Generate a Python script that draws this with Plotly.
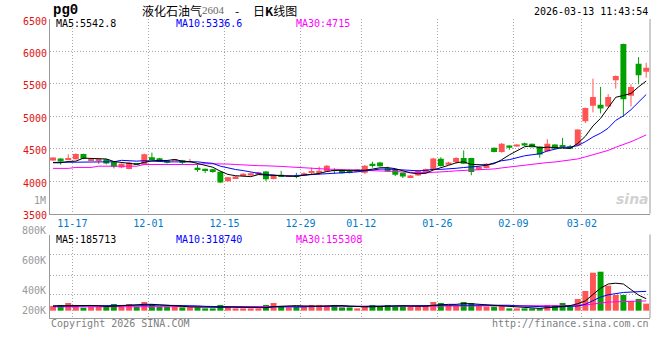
import plotly.graph_objects as go
import pandas as pd

# ---------------- data ----------------
dates = [
    "2025-11-13", "2025-11-14", "2025-11-17", "2025-11-18", "2025-11-19", "2025-11-20", "2025-11-21",
    "2025-11-24", "2025-11-25", "2025-11-26", "2025-11-27", "2025-11-28",
    "2025-12-01", "2025-12-02", "2025-12-03", "2025-12-04", "2025-12-05",
    "2025-12-08", "2025-12-09", "2025-12-10", "2025-12-11", "2025-12-12",
    "2025-12-15", "2025-12-16", "2025-12-17", "2025-12-18", "2025-12-19",
    "2025-12-22", "2025-12-23", "2025-12-24", "2025-12-25", "2025-12-26",
    "2025-12-29", "2025-12-30", "2025-12-31",
    "2026-01-05", "2026-01-06", "2026-01-07", "2026-01-08", "2026-01-09",
    "2026-01-12", "2026-01-13", "2026-01-14", "2026-01-15", "2026-01-16",
    "2026-01-19", "2026-01-20", "2026-01-21", "2026-01-22", "2026-01-23",
    "2026-01-26", "2026-01-27", "2026-01-28", "2026-01-29", "2026-01-30",
    "2026-02-02", "2026-02-03", "2026-02-04", "2026-02-05", "2026-02-06",
    "2026-02-09", "2026-02-10", "2026-02-11", "2026-02-12", "2026-02-13",
    "2026-02-24", "2026-02-25", "2026-02-26", "2026-02-27",
    "2026-03-02", "2026-03-03", "2026-03-04", "2026-03-05", "2026-03-06",
    "2026-03-09", "2026-03-10", "2026-03-11", "2026-03-12", "2026-03-13",
]

open_ = [4320, 4350, 4330, 4340, 4420, 4325, 4320, 4338, 4298, 4210,
         4190, 4270, 4255, 4370, 4355, 4320, 4318, 4325, 4300, 4207,
         4191, 4185, 4145, 4000, 4050, 4080, 4090, 4100, 4150, 4035,
         4100, 4070, 4080, 4090, 4140, 4140, 4150, 4170, 4180, 4150,
         4150, 4130, 4270, 4290, 4200, 4175, 4130, 4065, 4090, 4125,
         4175, 4345, 4255, 4296, 4357, 4357, 4178, 4204, 4515, 4449,
         4551, 4535, 4586, 4576, 4535, 4464, 4566, 4560, 4540, 4551,
         4923, 5163, 5178, 5153, 5556, 6116, 5316, 5810, 5688]
high = [4370, 4355, 4415, 4430, 4425, 4350, 4345, 4345, 4300, 4275,
        4300, 4275, 4425, 4440, 4360, 4325, 4335, 4330, 4345, 4255,
        4195, 4190, 4150, 4065, 4080, 4125, 4130, 4145, 4160, 4105,
        4160, 4095, 4130, 4140, 4210, 4225, 4250, 4200, 4185, 4180,
        4185, 4250, 4300, 4300, 4225, 4180, 4135, 4095, 4175, 4195,
        4360, 4370, 4300, 4372, 4475, 4360, 4225, 4275, 4520, 4590,
        4555, 4570, 4595, 4580, 4540, 4648, 4570, 4668, 4561, 4800,
        5135, 5581, 5454, 5341, 5632, 6120, 5494, 5913, 5826]
low = [4315, 4255, 4325, 4335, 4340, 4320, 4265, 4260, 4198, 4205,
       4185, 4250, 4250, 4330, 4300, 4275, 4315, 4255, 4290, 4145,
       4126, 4130, 3975, 3995, 4045, 4075, 4085, 4095, 4000, 4030,
       4070, 4065, 4045, 4085, 4100, 4100, 4145, 4120, 4120, 4120,
       4145, 4110, 4210, 4225, 4145, 4080, 4050, 4050, 4085, 4120,
       4170, 4225, 4250, 4270, 4265, 4092, 4170, 4200, 4445, 4440,
       4485, 4530, 4545, 4520, 4362, 4455, 4495, 4525, 4495, 4540,
       4898, 5061, 5045, 5145, 5428, 4994, 5153, 5494, 5596]
close = [4365, 4305, 4345, 4420, 4345, 4345, 4335, 4272, 4222, 4270,
         4290, 4255, 4415, 4340, 4305, 4285, 4330, 4285, 4310, 4175,
         4157, 4155, 3980, 4060, 4075, 4115, 4125, 4140, 4030, 4100,
         4075, 4090, 4075, 4125, 4150, 4160, 4240, 4160, 4125, 4140,
         4180, 4240, 4250, 4230, 4150, 4100, 4075, 4090, 4160, 4190,
         4350, 4235, 4290, 4357, 4270, 4143, 4220, 4270, 4450, 4576,
         4515, 4566, 4551, 4525, 4413, 4576, 4500, 4540, 4500, 4796,
         5127, 5300, 5122, 5300, 5622, 5265, 5454, 5632, 5749]
volume = [76000, 92000, 124000, 92000, 48000, 64000, 64000, 76000, 108000, 92000,
          108000, 64000, 140000, 108000, 64000, 64000, 64000, 53000, 53000, 53000,
          37000, 37000, 92000, 64000, 37000, 37000, 37000, 37000, 92000, 124000,
          76000, 53000, 64000, 64000, 92000, 92000, 76000, 92000, 53000, 53000,
          37000, 76000, 92000, 76000, 92000, 64000, 76000, 64000, 76000, 76000,
          140000, 124000, 92000, 76000, 140000, 124000, 76000, 64000, 64000, 76000,
          37000, 37000, 37000, 37000, 37000, 92000, 92000, 124000, 64000, 188000,
          317000, 612000, 628000, 403000, 253000, 253000, 157000, 188000, 113000]

# moving-average values before each window is full
ma5_head = [4285, 4285, 4305, 4310]
ma10_head = [4290, 4292, 4295, 4300, 4302, 4305, 4305, 4302, 4300]
ma30_head = [4198, 4198, 4198, 4213, 4213, 4213, 4232, 4232, 4232, 4232,
             4232, 4232, 4258, 4258, 4258, 4258, 4258, 4258, 4258, 4258,
             4270, 4270, 4268, 4265, 4258, 4250, 4245, 4240, 4238]
vma5_head = [78000, 80000, 84000, 86000]
vma10_head = [72000, 72000, 73000, 74000, 74000, 75000, 75000, 76000, 77000]
vma30_head = [62000, 62000, 62000, 62000, 63000, 63000, 63000, 63000, 64000, 64000,
              64000, 65000, 65000, 65000, 66000, 66000, 66000, 66000, 67000, 67000,
              67000, 68000, 68000, 68000, 69000, 69000, 70000, 70000, 71000]

tick_dates = ["2025-11-17", "2025-12-01", "2025-12-15", "2025-12-29",
              "2026-01-12", "2026-01-26", "2026-02-09", "2026-03-02"]
tick_labels = ["11-17", "12-01", "12-15", "12-29", "01-12", "01-26", "02-09", "03-02"]
price_ticks = [3500, 4000, 4500, 5000, 5500, 6000, 6500]

header_ma = ["MA5:5542.8", "MA10:5336.6", "MA30:4715"]
header_vma = ["MA5:185713", "MA10:318740", "MA30:155308"]
vol_labels = ["800K", "600K", "400K", "200K"]

# ---------------- helpers ----------------
def moving_avg(values, window, head):
    s = pd.Series(values, dtype=float).rolling(window).mean()
    s.iloc[:len(head)] = head
    return s.tolist()

ma5 = moving_avg(close, 5, ma5_head)
ma10 = moving_avg(close, 10, ma10_head)
ma30 = moving_avg(close, 30, ma30_head)
vma5 = moving_avg(volume, 5, vma5_head)
vma10 = moving_avg(volume, 10, vma10_head)
vma30 = moving_avg(volume, 30, vma30_head)

n = len(close)
idx = list(range(n))
RED, GREEN = "#ff5555", "#00a000"
up = [c >= o for o, c in zip(open_, close)]
colors = [RED if u else GREEN for u in up]

W, H = 660, 360
ML, MR, MT, MB = 50, 10, 19, 42
PW, PH = W - ML - MR, H - MT - MB
def fx(px):
    return (px - ML) / PW
def fy(py):
    return (H - MB - py) / PH

MONO = "DejaVu Sans Mono"
GRID = "#a8a8a8"
BORDER = "#9a9a9a"
GRID_OFFSET = 0.54
VMIN, VMAX = -118000, 1227000
vol_grid = [253000, 570000, 897000, VMAX]

fig = go.Figure()

# wicks
for is_up, col in ((True, RED), (False, GREEN)):
    xs, ys = [], []
    for i in idx:
        if up[i] == is_up:
            xs += [i, i, None]
            ys += [low[i], high[i], None]
    fig.add_trace(go.Scatter(x=xs, y=ys, mode="lines", line=dict(color=col, width=1),
                             hoverinfo="skip", showlegend=False, xaxis="x", yaxis="y"))
# bodies
for is_up, col in ((True, RED), (False, GREEN)):
    sel = [i for i in idx if up[i] == is_up]
    fig.add_trace(go.Bar(x=sel,
                         y=[abs(close[i] - open_[i]) for i in sel],
                         base=[min(close[i], open_[i]) for i in sel],
                         marker=dict(color=col, line=dict(width=0)), width=0.78,
                         customdata=[dates[i] for i in sel],
                         showlegend=False, xaxis="x", yaxis="y"))
# price MAs
for vals, col in ((ma30, "#ff00ff"), (ma10, "#0000ff"), (ma5, "#000000")):
    fig.add_trace(go.Scatter(x=idx, y=vals, mode="lines", line=dict(color=col, width=1),
                             hoverinfo="skip", showlegend=False, xaxis="x", yaxis="y"))
# volume
fig.add_trace(go.Bar(x=idx, y=volume, marker=dict(color=colors, line=dict(width=0)), width=0.78,
                     showlegend=False, xaxis="x2", yaxis="y2"))
for vals, col in ((vma30, "#ff00ff"), (vma10, "#0000ff"), (vma5, "#000000")):
    fig.add_trace(go.Scatter(x=idx, y=vals, mode="lines", line=dict(color=col, width=1),
                             hoverinfo="skip", showlegend=False, xaxis="x2", yaxis="y2"))

tickvals = [dates.index(d) + GRID_OFFSET for d in tick_dates]

common_x = dict(range=[-0.4, n - 0.5], tickvals=tickvals, showgrid=True, gridcolor=GRID,
                griddash="1px,2px", gridwidth=1, zeroline=False, ticks="",
                showline=True, linecolor=BORDER, linewidth=1, fixedrange=True)
fig.update_layout(
    width=W, height=H, margin=dict(l=ML, r=MR, t=MT, b=MB),
    paper_bgcolor="white", plot_bgcolor="white", barmode="overlay",
    xaxis=dict(common_x, domain=[0, 1], anchor="y", ticktext=tick_labels,
               tickfont=dict(family=MONO, size=10, color="#0078c8")),
    xaxis2=dict(common_x, domain=[0, 1], anchor="y2", matches="x", showticklabels=False),
    yaxis=dict(domain=[fy(213.7), 1], range=[3500, 6500], tickvals=price_ticks,
               showgrid=True, gridcolor=GRID, griddash="1px,2px", zeroline=False, ticks="",
               showline=True, linecolor=BORDER, linewidth=1, ticklabelshift=2,
               tickfont=dict(family=MONO, size=10, color="#e01010"), fixedrange=True),
    yaxis2=dict(domain=[0, fy(234.5)], range=[VMIN, VMAX], tickvals=vol_grid,
                showticklabels=False, showgrid=True, gridcolor=GRID, griddash="1px,2px",
                zeroline=False, ticks="", showline=True, linecolor=BORDER, linewidth=1,
                fixedrange=True),
    showlegend=False,
)

# right borders
for yr in ("y domain", "y2 domain"):
    fig.add_shape(type="line", xref="x domain", yref=yr, x0=1, x1=1, y0=0, y1=1,
                  line=dict(color=BORDER, width=1))

def txt(s, px, py, size=10, color="#000000", anchor="left", family=MONO, **kw):
    fig.add_annotation(text=s, x=fx(px), y=fy(py), xref="paper", yref="paper",
                       xanchor=anchor, yanchor="middle", showarrow=False, borderpad=0,
                       font=dict(family=family, size=size, color=color, **kw))

# header
txt("<b>pg0</b>", 52, 10.5, size=14, family="Liberation Mono")
txt("液化石油气", 140.5, 10, size=12, family="Noto Sans CJK SC")
txt("2604", 200.5, 10.5, size=11, color="#666666", family="Liberation Serif")
txt("-", 236.5, 10, size=12, anchor="center", family="Noto Sans CJK SC")
txt("日<b>K</b>线图", 251.5, 10, size=12, family="Noto Sans CJK SC")
txt("2026-03-13 11:43:54", 649, 11, size=10, anchor="right")

# MA legends
for s, x0, col in zip(header_ma, (55, 175, 295), ("#000000", "#0000ff", "#ff00ff")):
    txt(s, x0, 24, color=col)
for s, x0, col in zip(header_vma, (55, 175, 295), ("#000000", "#0000ff", "#ff00ff")):
    txt(s, x0, 239.5, color=col)

# volume axis labels
for s, yy in zip(vol_labels, (230.5, 260, 290.7, 310.7)):
    txt(s, 46.5, yy, color="#999999", anchor="right")
txt("1M", 46.5, 200, color="#999999", anchor="right")

# footer
txt("Copyright 2026 SINA.COM", 49.5, 323.5, color="#808080")
txt("http://finance.sina.com.cn", 649.5, 323.5, color="#808080", anchor="right")

# watermark
txt("sina", 632, 199, size=14, color="rgba(170,170,170,0.55)", anchor="center",
    family="DejaVu Sans", weight="bold", style="italic")

fig.write_html("out.html", config={"displayModeBar": False},
               post_script="document.body.style.margin='0';document.body.style.padding='0';")
